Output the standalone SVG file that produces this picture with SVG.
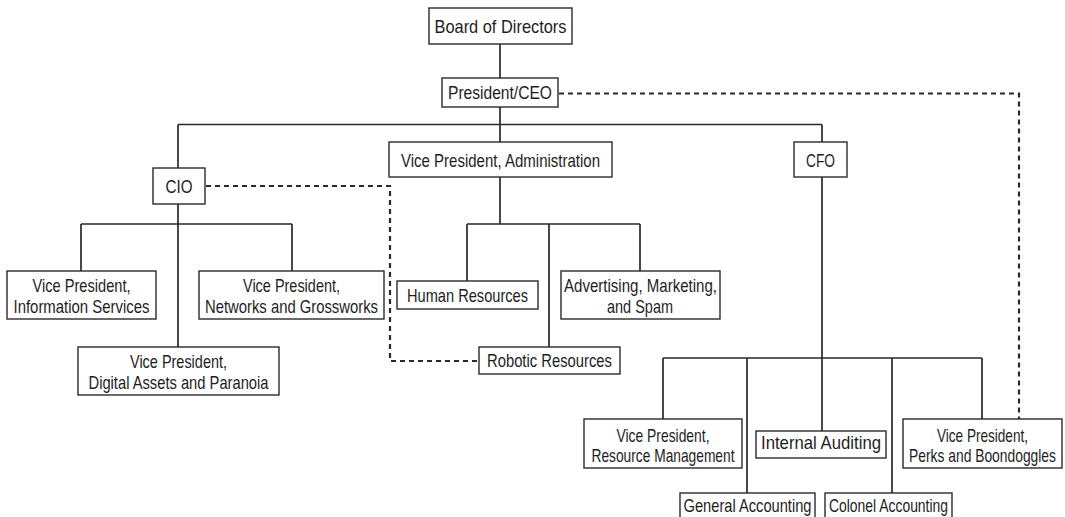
<svg xmlns="http://www.w3.org/2000/svg" width="1065" height="517" viewBox="0 0 1065 517">
<style>
.bg{fill:#fff}
.box{fill:#fff;stroke:#2a2a2a;stroke-width:1.4}
.t{font-family:"Liberation Sans",Arial,sans-serif;font-size:18.5px;fill:#1e1e1e;text-anchor:middle}
.ln{stroke:#2a2a2a;stroke-width:1.7;fill:none}
.dash{stroke:#2a2a2a;stroke-width:2.2;fill:none;stroke-dasharray:5 4}
</style>
<rect class="bg" x="0" y="0" width="1065" height="517"/>
<g id="connectors">
<path class="ln" d="M500,44V78M500,107V124.5M178,124.5H822M178,124.5V168M500,124.5V142M822,124.5V142"/>
<path class="ln" d="M178,204V347M81,224H292M81,224V271M292,224V271"/>
<path class="ln" d="M500,177V224M467,224H640M467,224V281M549,224V347M640,224V271"/>
<path class="ln" d="M822,177V358M663,358H982M663,358V419M747,358V493M822,358V431M892,358V493M982,358V419"/>
<path class="dash" d="M559,93.5H1019V419"/>
<path class="dash" d="M206,186H390V361H479"/>
</g>
<g id="board"><rect class="box" x="429" y="8" width="143" height="36"/><text class="t" x="500.5" y="32.5" textLength="132" lengthAdjust="spacingAndGlyphs">Board of Directors</text></g>
<g id="president"><rect class="box" x="442" y="78" width="116" height="29"/><text class="t" x="500" y="99" textLength="104" lengthAdjust="spacingAndGlyphs">President/CEO</text></g>
<g id="cio"><rect class="box" x="153" y="168" width="52" height="36"/><text class="t" x="179" y="193" textLength="27" lengthAdjust="spacingAndGlyphs">CIO</text></g>
<g id="vp-admin"><rect class="box" x="389" y="142" width="223" height="35"/><text class="t" x="500.5" y="166.5" textLength="199" lengthAdjust="spacingAndGlyphs">Vice President, Administration</text></g>
<g id="cfo"><rect class="box" x="794" y="142" width="53" height="35"/><text class="t" x="820.5" y="166.5" textLength="29" lengthAdjust="spacingAndGlyphs">CFO</text></g>
<g id="vp-info"><rect class="box" x="7" y="271" width="149" height="48"/><text class="t" x="81.5" y="292" textLength="98" lengthAdjust="spacingAndGlyphs">Vice President,</text><text class="t" x="81.5" y="313" textLength="136" lengthAdjust="spacingAndGlyphs">Information Services</text></g>
<g id="vp-networks"><rect class="box" x="199" y="271" width="185" height="48"/><text class="t" x="291.5" y="292" textLength="97" lengthAdjust="spacingAndGlyphs">Vice President,</text><text class="t" x="291.5" y="313" textLength="173" lengthAdjust="spacingAndGlyphs">Networks and Grossworks</text></g>
<g id="vp-digital"><rect class="box" x="78" y="347" width="201" height="48"/><text class="t" x="178.5" y="368" textLength="97" lengthAdjust="spacingAndGlyphs">Vice President,</text><text class="t" x="178.5" y="389" textLength="180" lengthAdjust="spacingAndGlyphs">Digital Assets and Paranoia</text></g>
<g id="human-resources"><rect class="box" x="397" y="281" width="141" height="28"/><text class="t" x="467.5" y="302" textLength="121" lengthAdjust="spacingAndGlyphs">Human Resources</text></g>
<g id="advertising"><rect class="box" x="561" y="271" width="159" height="48"/><text class="t" x="640.5" y="292" textLength="153" lengthAdjust="spacingAndGlyphs">Advertising, Marketing,</text><text class="t" x="640" y="313" textLength="66" lengthAdjust="spacingAndGlyphs">and Spam</text></g>
<g id="robotic"><rect class="box" x="479" y="347" width="141" height="27"/><text class="t" x="549.5" y="366.7" textLength="125" lengthAdjust="spacingAndGlyphs">Robotic Resources</text></g>
<g id="vp-resource"><rect class="box" x="584" y="419" width="158" height="49"/><text class="t" x="663" y="441.5" textLength="93" lengthAdjust="spacingAndGlyphs">Vice President,</text><text class="t" x="663" y="462" textLength="143" lengthAdjust="spacingAndGlyphs">Resource Management</text></g>
<g id="internal-auditing"><rect class="box" x="756" y="431" width="130" height="27"/><text class="t" x="821" y="449" textLength="120" lengthAdjust="spacingAndGlyphs">Internal Auditing</text></g>
<g id="vp-perks"><rect class="box" x="903" y="419" width="159" height="49"/><text class="t" x="982.5" y="441.5" textLength="91" lengthAdjust="spacingAndGlyphs">Vice President,</text><text class="t" x="982.5" y="462" textLength="147" lengthAdjust="spacingAndGlyphs">Perks and Boondoggles</text></g>
<g id="general-accounting"><rect class="box" x="680" y="493" width="135" height="29"/><text class="t" x="747.5" y="512" textLength="128" lengthAdjust="spacingAndGlyphs">General Accounting</text></g>
<g id="colonel-accounting"><rect class="box" x="825" y="493" width="127" height="29"/><text class="t" x="888.5" y="512" textLength="119" lengthAdjust="spacingAndGlyphs">Colonel Accounting</text></g>
</svg>
